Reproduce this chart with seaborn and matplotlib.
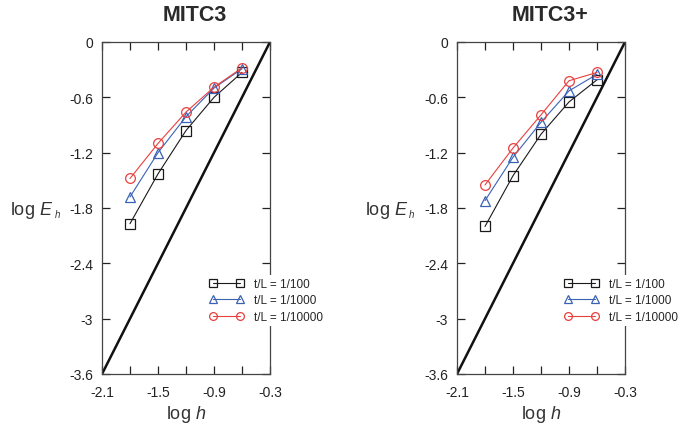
import numpy as np
import pandas as pd
import matplotlib
matplotlib.use("Agg")
import matplotlib.pyplot as plt
import seaborn as sns
from matplotlib.ticker import FixedLocator

sns.set_style("ticks")
plt.rcParams['font.family'] = ['Liberation Sans', 'DejaVu Sans']
plt.rcParams['mathtext.fontset'] = 'custom'
plt.rcParams['mathtext.rm'] = 'Liberation Sans'
plt.rcParams['mathtext.it'] = 'Liberation Sans:italic'

log_h = [-1.8, -1.5, -1.2, -0.9, -0.6]
series_labels = ["t/L = 1/100", "t/L = 1/1000", "t/L = 1/10000"]

mitc3_100 = [-1.97, -1.43, -0.96, -0.60, -0.33]
mitc3_1000 = [-1.68, -1.20, -0.81, -0.50, -0.29]
mitc3_10000 = [-1.48, -1.10, -0.76, -0.49, -0.28]

mitc3p_100 = [-2.00, -1.45, -1.00, -0.65, -0.41]
mitc3p_1000 = [-1.72, -1.25, -0.87, -0.53, -0.35]
mitc3p_10000 = [-1.55, -1.15, -0.79, -0.42, -0.33]

ref_x = [-2.1, -0.3]
ref_y = [-3.6, 0.0]

titles = ["MITC3", "MITC3+"]
xticks_major = [-2.1, -1.5, -0.9, -0.3]
xtick_labels = ["-2.1", "-1.5", "-0.9", "-0.3"]
xticks_minor = [-1.8, -1.2, -0.6]
yticks = [0, -0.6, -1.2, -1.8, -2.4, -3.0, -3.6]
ytick_labels = ["0", "-0.6", "-1.2", "-1.8", "-2.4", "-3", "-3.6"]

colors = ["#1a1a1a", "#3a62b4", "#e8403e"]
markers = ["s", "^", "o"]
msizes = [6.5, 7.5, 7]

fig = plt.figure(figsize=(6.78, 4.27), dpi=100)
W, H = 678, 427
axes_px = [(102, 43, 270, 375), (457, 43, 625, 375)]
panels = [(mitc3_100, mitc3_1000, mitc3_10000), (mitc3p_100, mitc3p_1000, mitc3p_10000)]

for (x0, y0, x1, y1), data, title in zip(axes_px, panels, titles):
    ax = fig.add_axes([x0 / W, 1 - y1 / H, (x1 - x0) / W, (y1 - y0) / H])
    sns.lineplot(x=ref_x, y=ref_y, ax=ax, color="#111111", linewidth=1.8, legend=False)
    for vals, lab, c, m, ms in zip(data, series_labels, colors, markers, msizes):
        df = pd.DataFrame({"x": log_h, "y": vals})
        sns.lineplot(data=df, x="x", y="y", ax=ax, color=c, marker=m, markersize=ms,
                     markerfacecolor="none", markeredgecolor=c, markeredgewidth=0.9,
                     linewidth=0.8, label=lab)
    ax.set_xlim(-2.1, -0.3)
    ax.set_ylim(-3.6, 0)
    ax.xaxis.set_major_locator(FixedLocator(xticks_major))
    ax.xaxis.set_minor_locator(FixedLocator(xticks_minor))
    ax.set_xticklabels(xtick_labels)
    ax.yaxis.set_major_locator(FixedLocator(yticks))
    ax.set_yticklabels(ytick_labels)
    ax.tick_params(which="both", direction="in", top=True, right=True, length=6,
                   width=0.9, labelsize=10, colors="#222222")
    ax.tick_params(axis="x", which="both", pad=8)
    ax.tick_params(axis="y", which="both", pad=6.5)
    for s in ax.spines.values():
        s.set_linewidth(0.9)
        s.set_color("#444444")
    ax.text(0.553, 1.0 + 22 / 332, title, transform=ax.transAxes, ha="center",
            va="baseline", fontsize=15.5, fontweight="bold", color="#2a2a2a")
    ax.set_xlabel("log $h$", fontsize=13, labelpad=3, color="#333333")
    ax.set_ylabel("")
    # y label: "log E" with a small subscript italic h
    fig.text((x0 - 49) / W, 1 - 215 / H, "log $E$", ha="right", va="baseline",
             fontsize=13, color="#333333")
    fig.text((x0 - 48.5) / W, 1 - 218 / H, "$h$", ha="left", va="baseline",
             fontsize=7, color="#333333")
    leg = ax.legend(loc="upper left", bbox_to_anchor=(0.626, 0.297), frameon=True,
                    fancybox=False, facecolor="white", edgecolor="none", framealpha=1,
                    fontsize=8.5, numpoints=2, handlelength=2.9, handletextpad=0.85,
                    labelspacing=0.4, borderpad=0.2, borderaxespad=0, markerscale=0.8)
    leg.set_zorder(10)
    leg.set_clip_on(False)

fig.savefig("out.png", dpi=100)
